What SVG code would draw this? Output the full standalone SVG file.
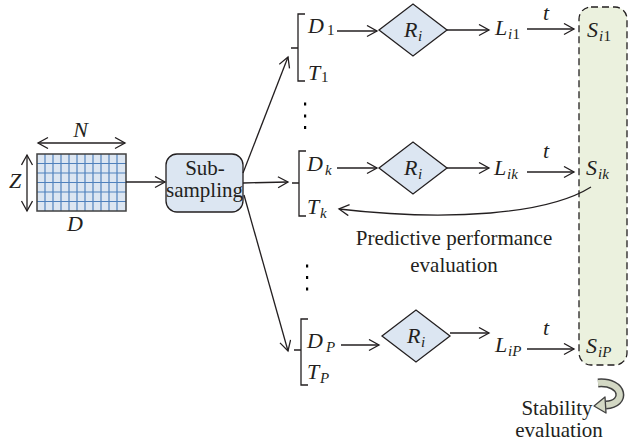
<svg xmlns="http://www.w3.org/2000/svg" width="630" height="442" viewBox="0 0 630 442">
<defs>
<marker id="ah" markerUnits="userSpaceOnUse" markerWidth="14" markerHeight="14" refX="11" refY="6" orient="auto-start-reverse">
<path d="M1,0.5 L11,6 L1,11.5" fill="none" stroke="#231f20" stroke-width="1.3"/>
</marker>
<style>
text{font-family:"Liberation Serif","Times New Roman",serif;fill:#231f20}
.v{font-style:italic;font-size:22px}
.s{font-size:15px}
.si{font-size:15px;font-style:italic}
.lbl{font-size:21px}
.ln{stroke:#231f20;stroke-width:1.3;fill:none}
.ar{stroke:#231f20;stroke-width:1.3;fill:none;marker-end:url(#ah)}
.dia{fill:#dce6f2;stroke:#231f20;stroke-width:1.3}
.gl{stroke:#4f81bd;stroke-width:1.2}
.br{stroke:#231f20;stroke-width:1.3;fill:none}
</style>
</defs>

<g id="data">
<rect x="37" y="154" width="89" height="57" fill="#dce6f2"/>
<g class="gl">
<line x1="45" y1="154" x2="45" y2="211"/><line x1="53" y1="154" x2="53" y2="211"/><line x1="61" y1="154" x2="61" y2="211"/><line x1="69" y1="154" x2="69" y2="211"/><line x1="77" y1="154" x2="77" y2="211"/><line x1="85" y1="154" x2="85" y2="211"/><line x1="93" y1="154" x2="93" y2="211"/><line x1="101" y1="154" x2="101" y2="211"/><line x1="109" y1="154" x2="109" y2="211"/><line x1="117" y1="154" x2="117" y2="211"/>
<line x1="37" y1="163.5" x2="126" y2="163.5"/><line x1="37" y1="173" x2="126" y2="173"/><line x1="37" y1="182.5" x2="126" y2="182.5"/><line x1="37" y1="192" x2="126" y2="192"/><line x1="37" y1="201.5" x2="126" y2="201.5"/>
</g>
<rect x="37" y="154" width="89" height="57" fill="none" stroke="#404040" stroke-width="1.5"/>
<line x1="38" y1="143" x2="125" y2="143" class="ln" marker-start="url(#ah)" marker-end="url(#ah)"/>
<line x1="27" y1="155" x2="27" y2="211" class="ln" marker-start="url(#ah)" marker-end="url(#ah)"/>
<text x="80.5" y="137" class="v" text-anchor="middle">N</text>
<text x="15" y="188" class="v" text-anchor="middle">Z</text>
<text x="75" y="231" class="v" text-anchor="middle">D</text>
</g>

<g id="subsampling">
<rect x="166" y="154" width="77" height="58" rx="11" fill="#dce6f2" stroke="#231f20" stroke-width="1.3"/>
<text x="205" y="175" class="lbl" text-anchor="middle">Sub-</text>
<text x="204.5" y="197" class="lbl" text-anchor="middle">sampling</text>
</g>

<g id="split1">
<path class="br" d="M305,14 L298,14 L298,81 L305,81 M298,48 L291,48"/>
<text x="308" y="33" class="v">D</text><text x="327" y="35" class="s">1</text>
<text x="308" y="80" class="v">T</text><text x="321" y="82" class="s">1</text>
</g>
<g id="split2">
<path class="br" d="M306,151 L299,151 L299,216 L306,216 M299,183 L292,183"/>
<text x="307" y="171" class="v">D</text><text x="325" y="175" class="si">k</text>
<text x="307" y="214" class="v">T</text><text x="320" y="218" class="si">k</text>
</g>
<g id="split3">
<path class="br" d="M308,319 L301,319 L301,385 L308,385 M301,350 L294,350"/>
<text x="307" y="348" class="v">D</text><text x="326" y="352" class="si">P</text>
<text x="307" y="379" class="v">T</text><text x="320" y="383" class="si">P</text>
</g>

<g id="dots">
<rect x="304" y="102.5" width="2.2" height="3"/>
<rect x="304" y="114.5" width="2.2" height="3"/>
<rect x="304" y="126" width="2.2" height="3"/>
<rect x="306" y="264.5" width="2.2" height="3"/>
<rect x="306" y="276" width="2.2" height="3"/>
<rect x="306" y="287.5" width="2.2" height="3"/>
</g>

<g id="r1">
<polygon class="dia" points="379,30 413,4 447,30 413,56"/>
<text x="404" y="37" class="v">R</text><text x="418" y="41" class="si">i</text>
</g>
<g id="r2">
<polygon class="dia" points="379,168 413,142 447,168 413,194"/>
<text x="404" y="175" class="v">R</text><text x="418" y="179" class="si">i</text>
</g>
<g id="r3">
<polygon class="dia" points="382,336 416,310 450,336 416,362"/>
<text x="407" y="343" class="v">R</text><text x="421" y="347" class="si">i</text>
</g>

<g id="l1"><text x="495" y="35" class="v">L</text><text x="508" y="39" class="si">i</text><text x="512.5" y="39" class="s">1</text></g>
<g id="l2"><text x="494" y="175" class="v">L</text><text x="507" y="179" class="si">ik</text></g>
<g id="l3"><text x="495" y="352" class="v">L</text><text x="508" y="356" class="si">iP</text></g>

<g id="stability">
<rect x="579" y="7" width="48" height="358" rx="12" fill="#ebf1de" stroke="#231f20" stroke-width="1.3" stroke-dasharray="7,4"/>
<text x="587" y="37" class="v">S</text><text x="599" y="41" class="si">i</text><text x="603.5" y="41" class="s">1</text>
<text x="586" y="175" class="v">S</text><text x="598" y="179" class="si">ik</text>
<text x="586" y="353" class="v">S</text><text x="598" y="357" class="si">iP</text>
</g>

<g id="stability-eval">
<path d="M598,383 C624,381 627,404 606,405" fill="none" stroke="#404040" stroke-width="9"/>
<path d="M598,383 C624,381 627,404 606,405" fill="none" stroke="#d3d8c4" stroke-width="6"/>
<polygon points="594,406 605,397 606,413" fill="#d3d8c4" stroke="#404040" stroke-width="1.3" stroke-linejoin="round"/>
<text x="557" y="415" class="lbl" text-anchor="middle">Stability</text>
<text x="559" y="437" class="lbl" text-anchor="middle">evaluation</text>
</g>

<g id="predictive">
<text x="454" y="245" class="lbl" text-anchor="middle">Predictive performance</text>
<text x="454" y="272" class="lbl" text-anchor="middle">evaluation</text>
</g>

<g id="connectors">
<line class="ar" x1="126" y1="182" x2="165" y2="182"/>
<line class="ar" x1="243" y1="173" x2="288" y2="57"/>
<line class="ar" x1="243" y1="183" x2="288" y2="182"/>
<line class="ar" x1="244" y1="195" x2="288" y2="351"/>
<line class="ar" x1="337" y1="31" x2="377" y2="31"/>
<line class="ar" x1="337" y1="168" x2="377" y2="168"/>
<line class="ar" x1="341" y1="345" x2="379" y2="345"/>
<line class="ar" x1="447" y1="30" x2="489" y2="30"/>
<line class="ar" x1="447" y1="168" x2="489" y2="168"/>
<line class="ar" x1="450" y1="333" x2="489" y2="333"/>
<line class="ar" x1="527" y1="29" x2="574" y2="29"/>
<line class="ar" x1="527" y1="172" x2="574" y2="172"/>
<line class="ar" x1="527" y1="349" x2="574" y2="349"/>
<text x="546" y="20" class="v" text-anchor="middle">t</text>
<text x="546" y="158" class="v" text-anchor="middle">t</text>
<text x="546" y="335" class="v" text-anchor="middle">t</text>
<path class="ar" d="M591,187 C548,214 450,222 339,209"/>
</g>
</svg>
